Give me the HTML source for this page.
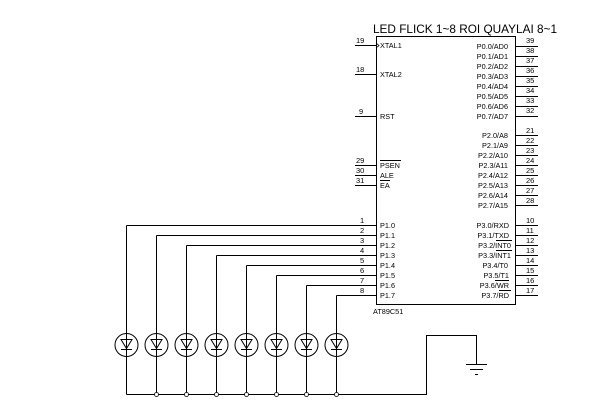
<!DOCTYPE html>
<html><head><meta charset="utf-8"><style>
html,body{margin:0;padding:0;background:#fff;width:610px;height:410px;overflow:hidden}
svg{display:block}
text{font-family:"Liberation Sans",sans-serif;fill:#000}
.s{font-size:7.3px}
.n{font-size:7.5px}
</style></head><body>
<svg width="610" height="410" viewBox="0 0 610 410" xmlns="http://www.w3.org/2000/svg">
<g stroke="#000" stroke-width="1" fill="none" shape-rendering="crispEdges">
<rect x="376.5" y="36.5" width="139" height="268"/>
<line x1="355" y1="45.5" x2="376" y2="45.5"/>
<line x1="355" y1="74.5" x2="376" y2="74.5"/>
<line x1="355" y1="116.5" x2="376" y2="116.5"/>
<line x1="355" y1="165.5" x2="376" y2="165.5"/>
<line x1="355" y1="175.5" x2="376" y2="175.5"/>
<line x1="355" y1="185.5" x2="376" y2="185.5"/>
<path d="M126.5 225.5H376M126.5 225.5V394.5"/>
<path d="M156.5 235.5H376M156.5 235.5V394.5"/>
<path d="M186.5 245.5H376M186.5 245.5V394.5"/>
<path d="M216.5 255.5H376M216.5 255.5V394.5"/>
<path d="M246.5 265.5H376M246.5 265.5V394.5"/>
<path d="M276.5 275.5H376M276.5 275.5V394.5"/>
<path d="M306.5 285.5H376M306.5 285.5V394.5"/>
<path d="M336.5 295.5H376M336.5 295.5V394.5"/>
<path d="M126.5 394.5H426.5V335.5H476.5V364"/>
<line x1="466" y1="364.5" x2="487" y2="364.5"/>
<line x1="470" y1="369.5" x2="483" y2="369.5"/>
<line x1="475" y1="374.5" x2="478" y2="374.5"/>
<line x1="515" y1="46.5" x2="538" y2="46.5"/><line x1="515" y1="56.5" x2="538" y2="56.5"/>
<line x1="515" y1="66.5" x2="538" y2="66.5"/><line x1="515" y1="76.5" x2="538" y2="76.5"/>
<line x1="515" y1="86.5" x2="538" y2="86.5"/><line x1="515" y1="96.5" x2="538" y2="96.5"/>
<line x1="515" y1="106.5" x2="538" y2="106.5"/><line x1="515" y1="116.5" x2="538" y2="116.5"/>
<line x1="515" y1="135.5" x2="538" y2="135.5"/><line x1="515" y1="145.5" x2="538" y2="145.5"/>
<line x1="515" y1="155.5" x2="538" y2="155.5"/><line x1="515" y1="165.5" x2="538" y2="165.5"/>
<line x1="515" y1="175.5" x2="538" y2="175.5"/><line x1="515" y1="185.5" x2="538" y2="185.5"/>
<line x1="515" y1="195.5" x2="538" y2="195.5"/><line x1="515" y1="205.5" x2="538" y2="205.5"/>
<line x1="515" y1="225.5" x2="538" y2="225.5"/><line x1="515" y1="235.5" x2="538" y2="235.5"/>
<line x1="515" y1="245.5" x2="538" y2="245.5"/><line x1="515" y1="255.5" x2="538" y2="255.5"/>
<line x1="515" y1="265.5" x2="538" y2="265.5"/><line x1="515" y1="275.5" x2="538" y2="275.5"/>
<line x1="515" y1="285.5" x2="538" y2="285.5"/><line x1="515" y1="295.5" x2="538" y2="295.5"/>
<line x1="380" y1="160.5" x2="401" y2="160.5"/>
<line x1="380" y1="180.5" x2="390" y2="180.5"/>
<line x1="496" y1="240.5" x2="512" y2="240.5"/>
<line x1="496" y1="250.5" x2="512" y2="250.5"/>
<line x1="495" y1="280.5" x2="509" y2="280.5"/>
<line x1="499" y1="290.5" x2="511" y2="290.5"/>
</g>
<path d="M376 43 l3 2.5 l-3 2.5" stroke="#000" fill="none" stroke-width="0.8"/>
<g stroke="#000" fill="none" stroke-width="1">
<g id="led">
<circle cx="126.5" cy="345" r="11.5"/>
<path d="M121 339.5H132L126.5 348.5Z"/>
<line x1="121" y1="349.5" x2="132" y2="349.5"/>
</g>
<use href="#led" x="30"/><use href="#led" x="60"/><use href="#led" x="90"/>
<use href="#led" x="120"/><use href="#led" x="150"/><use href="#led" x="180"/><use href="#led" x="210"/>
</g>
<g fill="#fff" stroke="#000" stroke-width="0.8">
<circle cx="156.5" cy="394.5" r="2"/><circle cx="186.5" cy="394.5" r="2"/><circle cx="216.5" cy="394.5" r="2"/>
<circle cx="246.5" cy="394.5" r="2"/><circle cx="276.5" cy="394.5" r="2"/><circle cx="306.5" cy="394.5" r="2"/>
<circle cx="336.5" cy="394.5" r="2"/>
</g>
<text x="373" y="33" style="font-size:11.8px">LED FLICK 1~8 ROI QUAYLAI 8~1</text>
<text x="373" y="314" class="s">AT89C51</text>
<g class="n">
<text x="356" y="43">19</text><text x="356" y="72">18</text><text x="359" y="114">9</text>
<text x="356" y="163">29</text><text x="356" y="173">30</text><text x="356" y="183">31</text>
<text x="360" y="223">1</text><text x="360" y="233">2</text><text x="360" y="243">3</text><text x="360" y="253">4</text>
<text x="360" y="263">5</text><text x="360" y="273">6</text><text x="360" y="283">7</text><text x="360" y="293">8</text>
</g>
<g class="n">
<text x="526" y="43">39</text><text x="526" y="53">38</text><text x="526" y="63">37</text><text x="526" y="73">36</text>
<text x="526" y="83">35</text><text x="526" y="93">34</text><text x="526" y="103">33</text><text x="526" y="113">32</text>
<text x="526" y="133">21</text><text x="526" y="143">22</text><text x="526" y="153">23</text><text x="526" y="163">24</text>
<text x="526" y="173">25</text><text x="526" y="183">26</text><text x="526" y="193">27</text><text x="526" y="203">28</text>
<text x="526" y="223">10</text><text x="526" y="233">11</text><text x="526" y="243">12</text><text x="526" y="253">13</text>
<text x="526" y="263">14</text><text x="526" y="273">15</text><text x="526" y="283">16</text><text x="526" y="293">17</text>
</g>
<g class="s">
<text x="380" y="48">XTAL1</text><text x="380" y="77">XTAL2</text><text x="380" y="119">RST</text>
<text x="380" y="168">PSEN</text><text x="380" y="178">ALE</text><text x="380" y="188">EA</text>
<text x="380" y="228">P1.0</text><text x="380" y="238">P1.1</text><text x="380" y="248">P1.2</text><text x="380" y="258">P1.3</text>
<text x="380" y="268">P1.4</text><text x="380" y="278">P1.5</text><text x="380" y="288">P1.6</text><text x="380" y="298">P1.7</text>
</g>
<g class="s" text-anchor="end">
<text x="508" y="49">P0.0/AD0</text><text x="508" y="59">P0.1/AD1</text><text x="508" y="69">P0.2/AD2</text><text x="508" y="79">P0.3/AD3</text>
<text x="508" y="89">P0.4/AD4</text><text x="508" y="99">P0.5/AD5</text><text x="508" y="109">P0.6/AD6</text><text x="508" y="119">P0.7/AD7</text>
<text x="508" y="138">P2.0/A8</text><text x="508" y="148">P2.1/A9</text><text x="508" y="158">P2.2/A10</text><text x="508" y="168">P2.3/A11</text>
<text x="508" y="178">P2.4/A12</text><text x="508" y="188">P2.5/A13</text><text x="508" y="198">P2.6/A14</text><text x="508" y="208">P2.7/A15</text>
<text x="509" y="228">P3.0/RXD</text><text x="509" y="238">P3.1/TXD</text><text x="511" y="248">P3.2/INT0</text><text x="511" y="258">P3.3/INT1</text>
<text x="508" y="268">P3.4/T0</text><text x="509" y="278">P3.5/T1</text><text x="509" y="288">P3.6/WR</text><text x="509" y="298">P3.7/RD</text>
</g>
</svg>
</body></html>
